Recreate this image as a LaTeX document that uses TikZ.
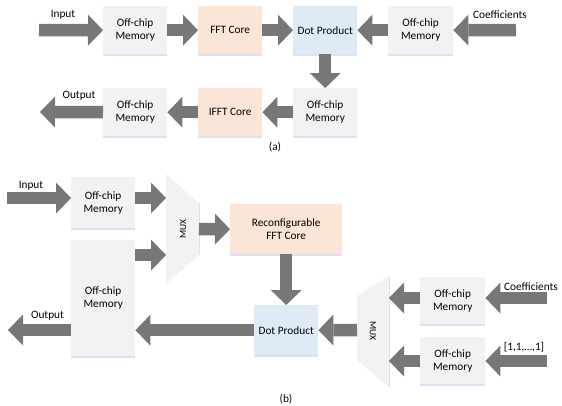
\documentclass[tikz,border=0pt]{standalone}
\usepackage{fontspec}
\setmainfont{Carlito}
\usetikzlibrary{arrows.meta}
\definecolor{memc}{HTML}{F2F2F2}
\definecolor{fftc}{HTML}{FBE5D6}
\definecolor{dotc}{HTML}{DEEBF7}
\definecolor{arrc}{HTML}{777777}
\definecolor{shc}{HTML}{DAE3F3}
\begin{document}
\begin{tikzpicture}[x=1pt,y=-1pt,
  every node/.style={font=\fontsize{11.3}{13.4}\selectfont, text=black},
  basebox/.style={anchor=north west, inner sep=0pt, align=center,
     minimum width=64pt, minimum height=48pt,
     preaction={fill=shc, transform canvas={yshift=-1.3pt}}},
  membox/.style={basebox, fill=memc},
  fftbox/.style={basebox, fill=fftc},
  dotbox/.style={basebox, fill=dotc},
  muxshape/.style={fill=memc},
  muxlabel/.style={font=\fontsize{9.5}{11}\selectfont},
  blk/.style={draw=arrc, line width=12.5pt,
     -{Triangle[width=31pt,length=15pt,line width=0pt]}},
]
\useasboundingbox (0,0) rectangle (562,405);

% ---------------- (a) ----------------
\node[membox] (mA1) at (103,6) {Off-chip\\Memory};
\node[fftbox] (fA) at (198,6) {FFT Core};
\node[dotbox] (dA) at (293,6) {Dot Product};
\node[membox, minimum width=65pt] (mA2) at (388,6) {Off-chip\\Memory};
\node[membox] (mA3) at (293,88) {Off-chip\\Memory};
\node[fftbox] (iA) at (198,88) {IFFT Core};
\node[membox] (mA4) at (103,88) {Off-chip\\Memory};

\coordinate (inA) at (39,30);
\coordinate (coA) at (516,30);
\coordinate (outA) at (40,112);

\draw[blk] (inA) -- (mA1.west);
\draw[blk] (mA1) -- (fA);
\draw[blk] (fA) -- (dA);
\draw[blk] (mA2) -- (dA);
\draw[blk] (coA) -- (mA2.east);
\draw[blk] (dA) -- (mA3);
\draw[blk] (mA3) -- (iA);
\draw[blk] (iA) -- (mA4);
\draw[blk] (mA4.west) -- (outA);

\node (tInA) at (63,15) {Input};
\node (tOutA) at (79,96) {Output};
\node (tCoA) at (500,15) {Coefficients};
\node (capA) at (275,147) {(a)};

% ---------------- (b) ----------------
\node[membox, minimum height=51pt] (mB1) at (71,177) {Off-chip\\Memory};
\node[membox, minimum height=116pt] (mB2) at (71,240) {Off-chip\\Memory};
\node[fftbox, minimum width=112pt, minimum height=50pt] (fB) at (230,204) {Reconfigurable\\FFT Core};
\node[dotbox, minimum height=50pt] (dB) at (254,305) {Dot Product};
\node[membox, minimum width=65pt, minimum height=47pt] (mB3) at (420,277) {Off-chip\\Memory};
\node[membox, minimum width=65pt, minimum height=47pt] (mB4) at (420,337) {Off-chip\\Memory};

% multiplexers
\fill[muxshape] (166,174) -- (199,203) -- (199,255) -- (166,284) -- cycle;
\draw[shc, line width=0.8pt] (199,203) -- (199,255);
\node[muxlabel, rotate=90] (mux1) at (183,229) {MUX};
\fill[muxshape] (357,296) -- (389,276) -- (389,387) -- (357,360) -- cycle;
\draw[shc, line width=0.8pt] (389,276) -- (389,387);
\node[muxlabel, rotate=-90] (mux2) at (373,331) {MUX};

\coordinate (x1a) at (166,198);
\coordinate (x1b) at (166,255);
\coordinate (x1o) at (199,229);
\coordinate (x2o) at (357,330);
\coordinate (x2a) at (389,298);
\coordinate (x2b) at (389,361);
\coordinate (inB) at (7,198);
\coordinate (outB) at (8,330);
\coordinate (coB) at (547,298);
\coordinate (onB) at (547,361);

\draw[blk] (inB) -- (inB -| mB1.west);
\draw[blk] (x1a -| mB1.east) -- (x1a);
\draw[blk] (x1b -| mB2.east) -- (x1b);
\draw[blk] (x1o) -- (fB.west);
\draw[blk] (fB) -- (dB);
\draw[blk] (x2o) -- (dB.east);
\draw[blk] (dB.west) -- (dB.west -| mB2.east);
\draw[blk] (outB -| mB2.west) -- (outB);
\draw[blk] (x2a -| mB3.west) -- (x2a);
\draw[blk] (coB) -- (coB -| mB3.east);
\draw[blk] (x2b -| mB4.west) -- (x2b);
\draw[blk] (onB) -- (onB -| mB4.east);

\node (tInB) at (31,186) {Input};
\node (tOutB) at (47.5,316) {Output};
\node (tCoB) at (531,287) {Coefficients};
\node (tOnB) at (524,347) {[1,1,…,1]};
\node (capB) at (286,399) {(b)};
\end{tikzpicture}
\end{document}
